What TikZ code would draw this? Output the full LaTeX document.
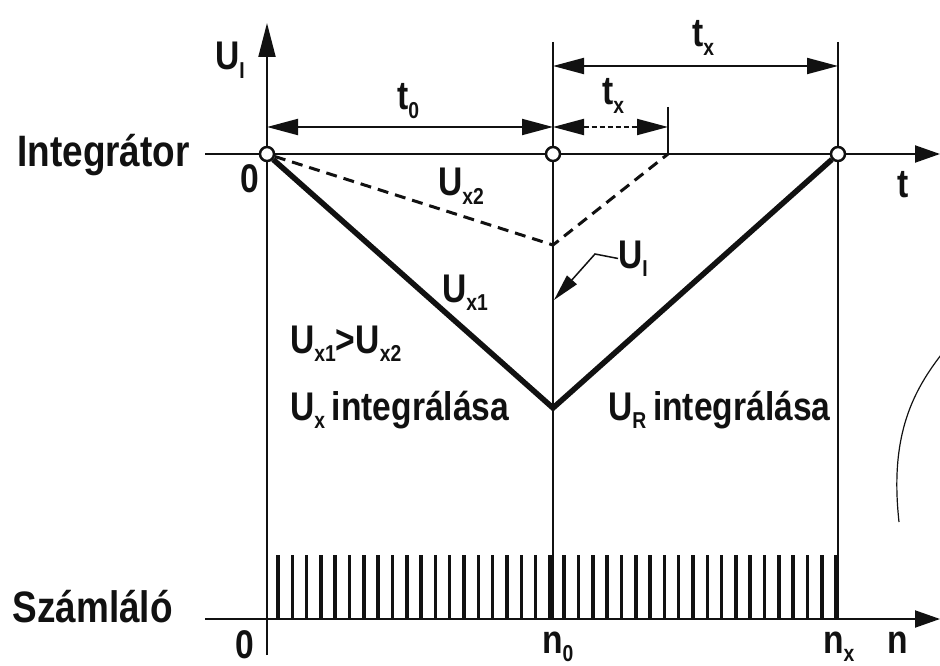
\documentclass[tikz,border=0pt]{standalone}
\usepackage{fontspec}
\setmainfont{Liberation Sans}[FakeStretch=0.84]
\usetikzlibrary{arrows.meta}
\newcommand{\Unit}{1pt}
\newcommand{\Thin}{2pt}
\newcommand{\Thick}{5.5pt}
\newcommand{\AxisT}{154}
\newcommand{\AxisN}{619}
\newcommand{\Pulses}{39}
\newcommand{\Sub}[1]{\raisebox{-8.5pt}{\fontsize{23}{23}\selectfont #1}}
\definecolor{ink}{HTML}{111111}

\tikzset{
  lab/.style={font=\fontsize{40}{44}\selectfont\bfseries, text=ink, inner sep=0pt},
  side/.style={lab, font=\fontsize{44}{48}\selectfont\bfseries},
  hole/.style={circle, draw=ink, fill=white, line width=2.5pt, minimum size=14pt, inner sep=0pt},
  axis/.style={draw=ink, line width=\Thin, -{Triangle[length=25pt,width=17pt]}},
  dimline/.style={draw=ink, line width=\Thin,
    {Triangle[length=31pt,width=16pt]}-{Triangle[length=31pt,width=16pt]}},
  vee/.style={draw=ink, line width=\Thick},
  dashv/.style={draw=ink, line width=3pt, dash pattern=on 11pt off 7pt},
  pulse/.style={draw=ink, line width=3.5pt},
  leader/.style={draw=ink, line width=1.5pt, -{Triangle[length=27pt,width=13pt]}}
}

\begin{document}
\begin{tikzpicture}[x=\Unit, y=-\Unit, line join=miter]
  \useasboundingbox (0,0) rectangle (940,666);

  % ---- axes -----------------------------------------------------------------
  \draw[axis, -{Triangle[length=34pt,width=17pt]}] (267,655) -- (267,23);
  \draw[axis] (205,\AxisT) -- (940,\AxisT);
  \draw[axis] (205,\AxisN) -- (940,\AxisN);
  \draw[ink, line width=\Thin] (553,42) -- (553,\AxisN);
  \draw[ink, line width=\Thin] (838,42) -- (838,\AxisN);
  \draw[ink, line width=\Thin] (668,107) -- (668,\AxisT);

  % ---- dimension lines --------------------------------------------------------
  \draw[dimline] (267,127) -- (553,127);
  \draw[dimline] (553,66) -- (838,66);
  \draw[dimline, dash pattern=on 5pt off 3pt] (553,127) -- (668,127);

  % ---- integrator ramps ---------------------------------------------------------
  \node[hole] (z0) at (267,\AxisT) {};
  \node[hole] (zn) at (553,\AxisT) {};
  \node[hole] (zx) at (838,\AxisT) {};
  \coordinate (vmin) at (553,408);
  \coordinate (vdash) at (553,245);
  \coordinate (tick) at (668,\AxisT);
  \draw[dashv] (z0) -- (vdash) -- (tick);
  \draw[vee] (z0) -- (vmin) -- (zx);

  % ---- counter pulses -------------------------------------------------------------
  \foreach \i in {0,...,\Pulses} {
    \pgfmathsetmacro\px{278+\i*14.31}
    \draw[pulse] (\px,\AxisN) -- (\px,555);
  }

  % ---- labels ----------------------------------------------------------------------
  \node[side, anchor=base east] (integ) at (190,167) {Integrátor};
  \node[side, anchor=base east] (szaml) at (173,622) {Számláló};
  \node[lab, anchor=base west] (uiax) at (215,70) {U\Sub{I}};
  \node[lab, anchor=base west] (zerot) at (240,193) {0};
  \node[lab, anchor=base west] (zeron) at (235,658) {0};
  \node[lab, anchor=base west] (tnull) at (397,110) {t\Sub{0}};
  \node[lab, anchor=base west] (txbig) at (692,47) {t\Sub{x}};
  \node[lab, anchor=base west] (txsm) at (602,105) {t\Sub{x}};
  \node[lab, anchor=base west] (tlab) at (897,197) {t};
  \node[lab, anchor=base west] (ux2) at (438,196) {U\Sub{x2}};
  \node[lab, anchor=base west] (ux1) at (442,302) {U\Sub{x1}};
  \node[lab, anchor=base west] (cmp) at (290,353) {U\Sub{x1}>U\Sub{x2}};
  \node[lab, anchor=base west] (intx) at (290,420) {U\Sub{x}\,integrálása};
  \node[lab, anchor=base west] (intr) at (608,420) {U\Sub{R}\,integrálása};
  \node[lab, anchor=base west] (uil) at (618,268) {U\Sub{I}};
  \node[lab, anchor=base west] (nnull) at (542,653) {n\Sub{0}};
  \node[lab, anchor=base west] (nx) at (823,653) {n\Sub{x}};
  \node[lab, anchor=base west] (nlab) at (887,653) {n};

  % leader to the step
  \coordinate (knee) at (595,254);
  \coordinate (tipI) at (554,300);
  \draw[leader] (uil.west) -- (knee) -- (tipI);

  % stray arc at the right edge
  \draw[ink, line width=1.2pt] (941,355) .. controls (910,395) and (890,440) .. (899,522);
\end{tikzpicture}
\end{document}
